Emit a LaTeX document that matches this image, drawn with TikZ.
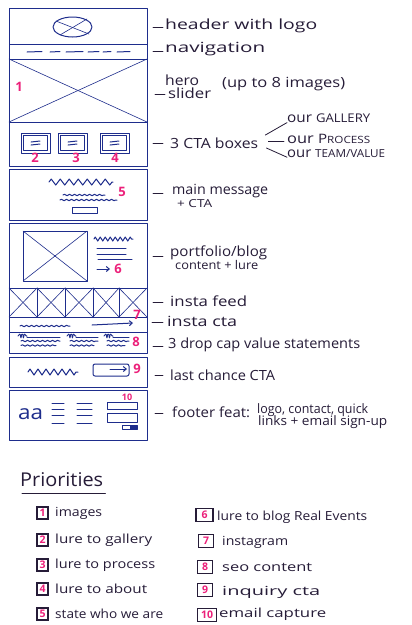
\documentclass[tikz,border=0pt]{standalone}
\usepackage{fontspec}
\setmainfont{Open Sans}
\usepackage{graphicx}
\usetikzlibrary{arrows.meta,decorations.pathmorphing}
\definecolor{ink}{RGB}{30,45,140}
\definecolor{pen}{RGB}{38,28,56}
\definecolor{pnk}{RGB}{236,32,122}
\newcommand\fw[2]{\resizebox{#1pt}{\height}{#2}}
\begin{document}
\begin{tikzpicture}[x=1pt,y=-1pt,
 wire/.style={draw=ink,line width=1pt,line cap=round,line join=round},
 xwire/.style={draw=ink,line width=0.6pt,line cap=round},
 lbl/.style={text=pen,inner sep=0pt,anchor=west,font=\fontsize{14}{16}\selectfont},
 slbl/.style={text=pen,inner sep=0pt,anchor=west,font=\fontsize{12}{14}\selectfont},
 plbl/.style={text=pen,inner sep=0pt,anchor=west,font=\fontsize{12.5}{14}\selectfont},
 ldash/.style={draw=pen,line width=0.8pt,line cap=round},
 num/.style={text=pnk,inner sep=0pt,font=\fontsize{13}{14}\selectfont\bfseries},
 pbox/.style={draw=pen,line width=1.1pt,inner sep=0pt,minimum width=11pt,minimum height=12pt,text=pnk,font=\fontsize{10.5}{11}\selectfont\bfseries},
 pboxw/.style={pbox,minimum width=15pt,minimum height=13pt},
 wavy/.style={decorate,decoration={snake,amplitude=0.7pt,segment length=5pt}},
 zz/.style={decorate,decoration={zigzag,amplitude=3pt,segment length=9pt}},
 arr/.style={wire,-{Straight Barb[length=3pt,width=5pt]}},
]
\fill[white] (0,0) rectangle (412,625);
\useasboundingbox (0,0) rectangle (412,625);

% ---------- wireframe sections ----------
\draw[wire] (9,8) rectangle (147,44);
\draw[wire] (9,44) rectangle (147,59);
\draw[wire] (9,59) rectangle (147,122);
\draw[wire] (9,122) rectangle (147,166);
\draw[wire] (9,169) rectangle (147,220);
\draw[wire] (9,223) rectangle (147,288);
\draw[wire] (9,288) rectangle (147,317);
\draw[wire] (9,317) rectangle (147,332);
\draw[wire] (9,332) rectangle (147,353);
\draw[wire] (9,357) rectangle (147,387);
\draw[wire] (9,390) rectangle (147,440);

% header logo
\draw[wire] (72.5,27) ellipse [x radius=19.5, y radius=10];
\draw[xwire] (56,21) -- (89,34);
\draw[xwire] (60,35) -- (87,19);

% navigation dashes
\foreach \a/\b in {27/42,50/60,66/83,88/99,103/111,117/130}
  \draw[wire] (\a,52) -- (\b,51.5);

% hero slider
\draw[xwire] (9,59) -- (147,122);
\draw[xwire] (147,59) -- (9,122);
\node[num] (n1) at (19,87) {1};

% CTA boxes
\foreach \bx in {21,58,100}{
  \draw[wire] (\bx,133) rectangle (\bx+29,153);
  \draw[wire] (\bx+2.5,135.5) rectangle (\bx+26.5,150.5);
  \draw[wire] (\bx+10,142) -- (\bx+19,141);
  \draw[wire] (\bx+10,145) -- (\bx+19,144);
}
\node[num] (n2) at (35,158) {2};
\node[num] (n3) at (76,158) {3};
\node[num] (n4) at (115,158) {4};

% main message
\draw[wire,zz] (49,182) -- (113,182);
\draw[wire,wavy] (63,195) -- (105,195);
\draw[wire,wavy] (60,200) -- (117,200);
\draw[wire] (72,207) rectangle (97,213);
\node[num] (n5) at (122,192) {5};

% portfolio / blog
\draw[wire] (23,231) rectangle (87,281);
\draw[xwire] (23,231) -- (87,281);
\draw[xwire] (87,231) -- (23,281);
\draw[wire,decorate,decoration={zigzag,amplitude=2pt,segment length=5pt}] (94,239) -- (133,239);
\draw[wire] (97,248) -- (126,248);
\draw[wire] (97,254) -- (126,254);
\draw[wire] (98,259) -- (132,259);
\draw[arr] (97,269) -- (110,269);
\node[num] (n6) at (118,269) {6};

% insta feed
\foreach \a/\b in {9/37,37/65,65/93,93/119,119/147}{
  \draw[wire] (\a,288) -- (\a,317);
  \draw[xwire] (\a,288) -- (\b,317);
  \draw[xwire] (\b,288) -- (\a,317);
}
\node[num] (n7) at (137,315) {7};

% insta cta
\draw[wire,wavy] (20,326) -- (70,326);
\draw[arr] (92,325) -- (133,323);

% drop caps
\foreach \x/\w in {18/42,67/31,104/25}{
  \draw[wire,decorate,decoration={coil,aspect=0.6,segment length=2.5pt,amplitude=1.8pt}] (\x,336) -- (\x+9,336);
  \draw[wire] (\x+9,337) -- (\x+\w,337);
  \draw[wire,wavy] (\x+3,341) -- (\x+\w,341);
  \draw[wire,wavy] (\x+3,345.5) -- (\x+\w-4,345.5);
}
\node[num] (n8) at (136,342) {8};

% last chance CTA
\draw[wire,decorate,decoration={zigzag,amplitude=3pt,segment length=8pt}] (28,372) -- (78,372);
\draw[wire,rounded corners=2pt] (93,364) rectangle (129,376);
\draw[arr] (110,369) -- (127,369);
\node[num] (n9) at (137,369) {9};

% footer
\node[text=ink,inner sep=0pt,anchor=west,font=\fontsize{20}{20}\selectfont] (flogo) at (18,414) {\fw{25}{aa}};
\foreach \yy in {403,409,415,423}{
  \draw[wire] (52,\yy) -- (64,\yy);
  \draw[wire] (77,\yy) -- (92,\yy);
}
\draw[wire] (107,402) rectangle (137,409);
\draw[wire] (107,413) rectangle (137,422);
\draw[wire] (122,425) rectangle (137,429);
\fill[ink] (130,425) rectangle (137,429);
\node[text=pnk,inner sep=0pt,font=\fontsize{9}{9}\selectfont\bfseries] (n10) at (127,397) {10};

% ---------- labels ----------
\node[lbl] (hdr) at (165,26) {\fw{152}{header with logo}};
\draw[ldash] ([xshift=-2pt,yshift=-1pt]hdr.west) -- ++(-10pt,0);
\node[lbl] (nav) at (165,49) {\fw{100}{navigation}};
\draw[ldash] ([xshift=-2pt,yshift=-2pt]nav.west) -- ++(-10pt,0);
\node[lbl] (hero) at (165,80) {\fw{34}{hero}};
\node[lbl] (sld) at (168,93) {\fw{43}{slider}};
\draw[ldash] ([xshift=-3pt,yshift=-1pt]sld.west) -- ++(-10pt,0);
\node[lbl] (upto) at (222,84) {\fw{123}{(up to 8 images)}};
\node[lbl] (cta) at (170,143) {\fw{88}{3 CTA boxes}};
\draw[ldash] ([xshift=-7pt]cta.west) -- ++(-10pt,0);
\node[lbl] (gal) at (287,118) {\fw{83}{our {\fontsize{12}{12}\selectfont GALLERY}}};
\node[lbl] (proc) at (287,139) {\fw{83}{our {\fontsize{13}{12}\selectfont P}{\fontsize{10}{12}\selectfont ROCESS}}};
\node[lbl] (team) at (287,154) {\fw{98}{our {\fontsize{11}{12}\selectfont TEAM/VALUE}}};
\draw[ldash] ([xshift=7pt,yshift=8pt]cta.east) -- (gal.south west);
\draw[ldash] ([xshift=10pt,yshift=2pt]cta.east) -- ([xshift=-3pt,yshift=-2pt]proc.west);
\draw[ldash] ([xshift=8pt,yshift=-5pt]cta.east) -- ([yshift=1pt]team.south west);
\node[lbl] (msg) at (172,191) {\fw{96}{main message}};
\draw[ldash] ([xshift=-9pt,yshift=-2pt]msg.west) -- ++(-10pt,0);
\node[slbl,font=\fontsize{11}{12}\selectfont] (msg2) at (177,204) {\fw{35}{+ CTA}};
\node[lbl] (port) at (170,253) {\fw{97}{portfolio/blog}};
\draw[ldash] ([xshift=-7pt,yshift=-3pt]port.west) -- ++(-10pt,0);
\node[slbl] (port2) at (175,265) {\fw{83}{content + lure}};
\node[lbl] (ifeed) at (170,301) {\fw{77}{insta feed}};
\draw[ldash] ([xshift=-7pt,yshift=-1pt]ifeed.west) -- ++(-10pt,0);
\node[lbl] (icta) at (167,321) {\fw{70}{insta cta}};
\draw[ldash] ([xshift=-4pt,yshift=-1pt]icta.west) -- ++(-11pt,0);
\node[lbl] (drop) at (168,345) {\fw{192}{3 drop cap value statements}};
\draw[ldash] ([xshift=-5pt,yshift=-1pt]drop.west) -- ++(-10pt,0);
\node[lbl] (last) at (170,375) {\fw{105}{last chance CTA}};
\draw[ldash] ([xshift=-7pt]last.west) -- ++(-8pt,0);
\node[lbl] (foot) at (172,412) {\fw{78}{footer feat:}};
\draw[ldash] ([xshift=-9pt,yshift=-1pt]foot.west) -- ++(-8pt,0);
\node[slbl,font=\fontsize{13}{14}\selectfont] (foot2) at (257,410) {\fw{111}{logo, contact, quick}};
\node[slbl,font=\fontsize{13}{14}\selectfont] (foot3) at (258,422) {\fw{129}{links + email sign-up}};

% ---------- priorities ----------
\node[text=pen,inner sep=0pt,anchor=west,font=\fontsize{19}{20}\selectfont] (prio) at (20,480) {\fw{83}{Priorities}};
\draw[draw=pen,line width=1pt,line cap=round] ([xshift=2pt,yshift=-6pt]prio.south west) -- ([xshift=2pt,yshift=-6pt]prio.south east);

\node[pbox] (b1) at (42.5,513) {1};
\node[plbl] (t1) at (55,513) {\fw{47}{images}};
\node[pbox] (b2) at (42.5,540) {2};
\node[plbl] (t2) at (55,540) {\fw{97}{lure to gallery}};
\node[pbox] (b3) at (42.5,565) {3};
\node[plbl] (t3) at (55,565) {\fw{100}{lure to process}};
\node[pbox] (b4) at (42.5,589) {4};
\node[plbl] (t4) at (55,589) {\fw{92}{lure to about}};
\node[pbox] (b5) at (42.5,614) {5};
\node[plbl] (t5) at (55,614) {\fw{108}{state who we are}};

\node[pboxw,minimum width=17pt] (b6) at (204.5,515) {6};
\node[plbl] (t6) at (217,517) {\fw{150}{lure to blog Real Events}};
\node[pboxw] (b7) at (206,541) {7};
\node[plbl] (t7) at (222,542) {\fw{66}{instagram}};
\node[pboxw] (b8) at (205,567) {8};
\node[plbl] (t8) at (222,567) {\fw{90}{seo content}};
\node[pboxw] (b9) at (205,590) {9};
\node[plbl] (t9) at (222,592) {\fw{98}{inquiry cta}};
\node[pboxw,minimum width=19pt] (b10) at (207,615) {10};
\node[plbl] (t10) at (219,614) {\fw{107}{email capture}};
\end{tikzpicture}
\end{document}
